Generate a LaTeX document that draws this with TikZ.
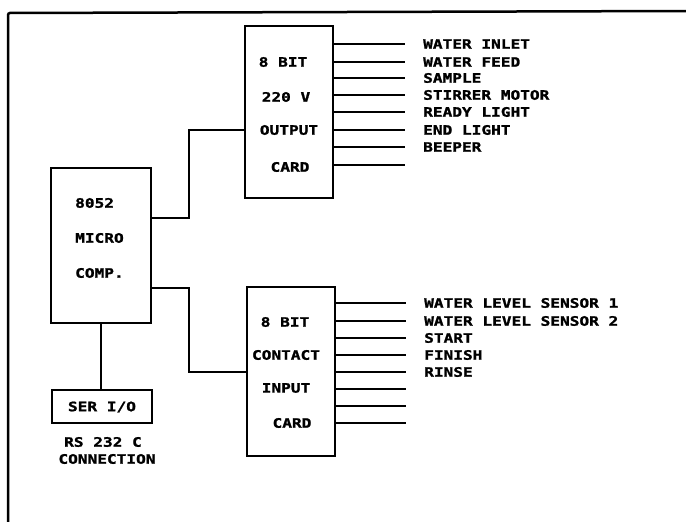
\documentclass[tikz,border=0pt]{standalone}
\usepackage{fontspec}
\newfontfamily\plotfont[FakeStretch=1.24,FakeBold=1.5]{DejaVu Sans Mono}
\usetikzlibrary{positioning}

\begin{document}
\begin{tikzpicture}[x=1pt,y=-1pt,
  box/.style={draw,line width=2pt,inner sep=0pt},
  txt/.style={font=\plotfont\bfseries\fontsize{13}{14}\selectfont,inner sep=1pt},
  lbl/.style={txt,anchor=west},
  link/.style={line width=2pt},
  wire/.style={line width=1.5pt}]
\useasboundingbox (0,0) rectangle (686,522);
\draw[line width=2.5pt,rounded corners=2pt] (8,522) -- (8,13) -- (686,11);
\node[box,minimum width=88,minimum height=172] (outcard) at (289,112) {};
\node[box,minimum width=88,minimum height=169] (incard) at (291,371.5) {};
\node[box,minimum width=100,minimum height=155] (micro) at (101,245.5) {};
\node[box,minimum width=100,minimum height=33] (ser) at (102,406.5) {};
\node[txt] (out1) at (283,62) {8 BIT};
\node[txt] (out2) at (286,97) {220 V};
\node[txt] (out3) at (289,130) {OUTPUT};
\node[txt] (out4) at (290,167) {CARD};
\node[txt] (in1) at (285,322) {8 BIT};
\node[txt] (in2) at (286,355) {CONTACT};
\node[txt] (in3) at (286,388) {INPUT};
\node[txt] (in4) at (292,423) {CARD};
\node[lbl] (mc1) at (74,203) {8052};
\node[lbl] (mc2) at (74,238) {MICRO};
\node[lbl] (mc3) at (74,273) {COMP.};
\node[txt] (sertxt) at (102,407) {SER I/O};
\node[txt] (rs1) at (103,442) {RS 232 C};
\node[txt] (rs2) at (107,459) {CONNECTION};
\draw[link] (micro.east |- 0,218) -- ++(37,0) |- (outcard.west |- 0,130);
\draw[link] (micro.east |- 0,288) -- ++(37,0) |- (incard.west |- 0,372);
\draw[link] (micro.south) -- (micro.south |- ser.north);
\foreach \y [count=\i] in {44,62,78,95,112,130,147,165}
  \draw[wire] (outcard.east |- 0,\y) -- ++(71,0) coordinate (oend\i);
\foreach \t [count=\i] in {WATER INLET,WATER FEED,SAMPLE,STIRRER MOTOR,READY LIGHT,END LIGHT,BEEPER}
  \node[lbl,right=17pt of oend\i] (olbl\i) {\t};
\foreach \y [count=\i] in {303,321,338,355,372,389,406,423}
  \draw[wire] (incard.east |- 0,\y) -- ++(70,0) coordinate (iend\i);
\foreach \t [count=\i] in {WATER LEVEL SENSOR 1,WATER LEVEL SENSOR 2,START,FINISH,RINSE}
  \node[lbl,right=17pt of iend\i] (ilbl\i) {\t};
\end{tikzpicture}
\end{document}
